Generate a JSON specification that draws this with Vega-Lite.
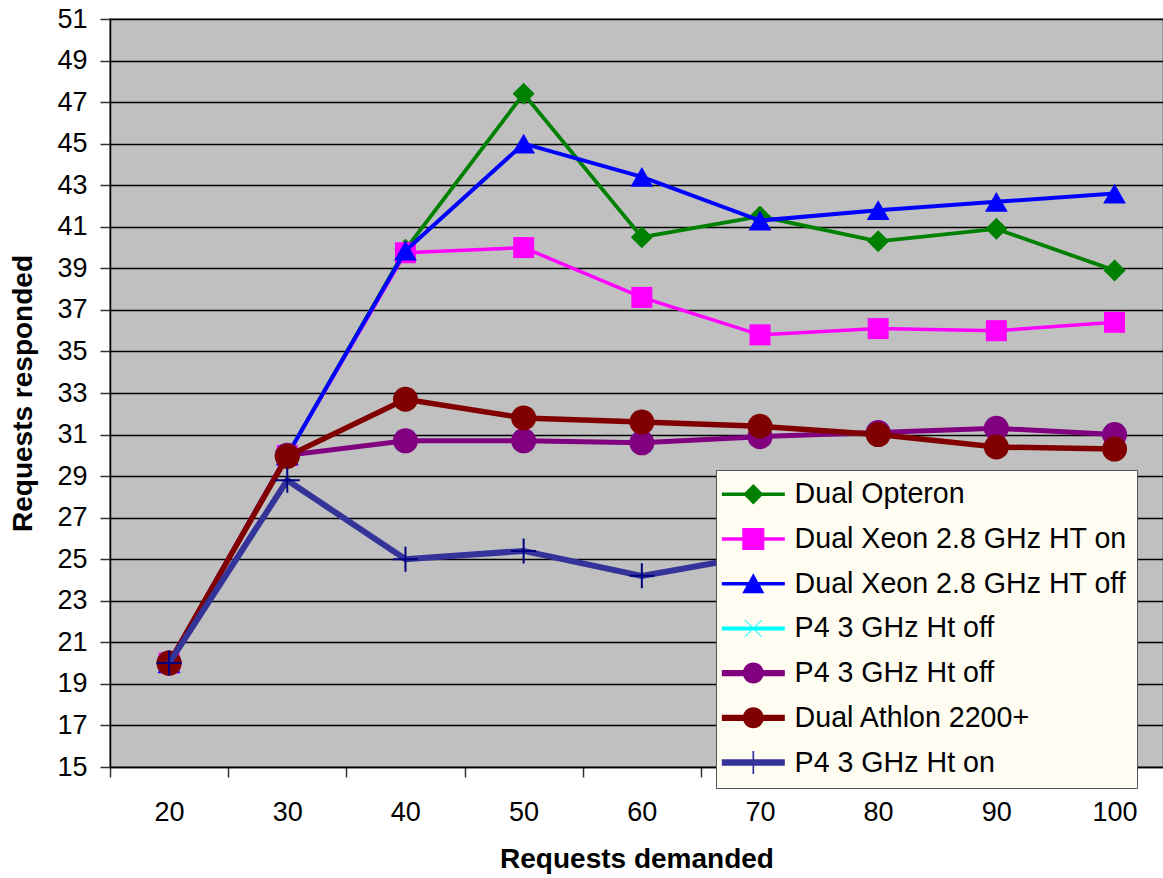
{
  "$schema": "https://vega.github.io/schema/vega-lite/v6.json",
  "width": 1053,
  "height": 748,
  "autosize": {"type": "none"},
  "padding": {"left": 110, "top": 19, "right": 0, "bottom": 111},
  "background": "white",
  "config": {
    "view": {"fill": "#C0C0C0", "stroke": "#999999", "strokeWidth": 2},
    "font": "Liberation Sans"
  },
  "data": {
    "values": [
      {"series": "Dual Opteron", "x": 20, "y": 20},
      {"series": "Dual Opteron", "x": 30, "y": 30},
      {"series": "Dual Opteron", "x": 40, "y": 39.9},
      {"series": "Dual Opteron", "x": 50, "y": 47.4},
      {"series": "Dual Opteron", "x": 60, "y": 40.5},
      {"series": "Dual Opteron", "x": 70, "y": 41.5},
      {"series": "Dual Opteron", "x": 80, "y": 40.3},
      {"series": "Dual Opteron", "x": 90, "y": 40.9},
      {"series": "Dual Opteron", "x": 100, "y": 38.9},
      {"series": "Dual Xeon 2.8 GHz HT on", "x": 20, "y": 20},
      {"series": "Dual Xeon 2.8 GHz HT on", "x": 30, "y": 30},
      {"series": "Dual Xeon 2.8 GHz HT on", "x": 40, "y": 39.75},
      {"series": "Dual Xeon 2.8 GHz HT on", "x": 50, "y": 40.0},
      {"series": "Dual Xeon 2.8 GHz HT on", "x": 60, "y": 37.6},
      {"series": "Dual Xeon 2.8 GHz HT on", "x": 70, "y": 35.8},
      {"series": "Dual Xeon 2.8 GHz HT on", "x": 80, "y": 36.1},
      {"series": "Dual Xeon 2.8 GHz HT on", "x": 90, "y": 36.0},
      {"series": "Dual Xeon 2.8 GHz HT on", "x": 100, "y": 36.4},
      {"series": "Dual Xeon 2.8 GHz HT off", "x": 20, "y": 20},
      {"series": "Dual Xeon 2.8 GHz HT off", "x": 30, "y": 30},
      {"series": "Dual Xeon 2.8 GHz HT off", "x": 40, "y": 39.85},
      {"series": "Dual Xeon 2.8 GHz HT off", "x": 50, "y": 45.0},
      {"series": "Dual Xeon 2.8 GHz HT off", "x": 60, "y": 43.4},
      {"series": "Dual Xeon 2.8 GHz HT off", "x": 70, "y": 41.3},
      {"series": "Dual Xeon 2.8 GHz HT off", "x": 80, "y": 41.8},
      {"series": "Dual Xeon 2.8 GHz HT off", "x": 90, "y": 42.2},
      {"series": "Dual Xeon 2.8 GHz HT off", "x": 100, "y": 42.6},
      {"series": "P4 3 GHz Ht off", "x": 20, "y": 20},
      {"series": "P4 3 GHz Ht off", "x": 30, "y": 30},
      {"series": "P4 3 GHz Ht off", "x": 40, "y": 30.7},
      {"series": "P4 3 GHz Ht off", "x": 50, "y": 30.7},
      {"series": "P4 3 GHz Ht off", "x": 60, "y": 30.6},
      {"series": "P4 3 GHz Ht off", "x": 70, "y": 30.9},
      {"series": "P4 3 GHz Ht off", "x": 80, "y": 31.1},
      {"series": "P4 3 GHz Ht off", "x": 90, "y": 31.3},
      {"series": "P4 3 GHz Ht off", "x": 100, "y": 31.0},
      {"series": "P4 3 GHz Ht off (2)", "x": 20, "y": 20},
      {"series": "P4 3 GHz Ht off (2)", "x": 30, "y": 30},
      {"series": "P4 3 GHz Ht off (2)", "x": 40, "y": 30.7},
      {"series": "P4 3 GHz Ht off (2)", "x": 50, "y": 30.7},
      {"series": "P4 3 GHz Ht off (2)", "x": 60, "y": 30.6},
      {"series": "P4 3 GHz Ht off (2)", "x": 70, "y": 30.9},
      {"series": "P4 3 GHz Ht off (2)", "x": 80, "y": 31.1},
      {"series": "P4 3 GHz Ht off (2)", "x": 90, "y": 31.3},
      {"series": "P4 3 GHz Ht off (2)", "x": 100, "y": 31.0},
      {"series": "Dual Athlon 2200+", "x": 20, "y": 20},
      {"series": "Dual Athlon 2200+", "x": 30, "y": 29.95},
      {"series": "Dual Athlon 2200+", "x": 40, "y": 32.7},
      {"series": "Dual Athlon 2200+", "x": 50, "y": 31.8},
      {"series": "Dual Athlon 2200+", "x": 60, "y": 31.6},
      {"series": "Dual Athlon 2200+", "x": 70, "y": 31.4},
      {"series": "Dual Athlon 2200+", "x": 80, "y": 31.0},
      {"series": "Dual Athlon 2200+", "x": 90, "y": 30.4},
      {"series": "Dual Athlon 2200+", "x": 100, "y": 30.3},
      {"series": "P4 3 GHz Ht on", "x": 20, "y": 20},
      {"series": "P4 3 GHz Ht on", "x": 30, "y": 28.8},
      {"series": "P4 3 GHz Ht on", "x": 40, "y": 25.0},
      {"series": "P4 3 GHz Ht on", "x": 50, "y": 25.4},
      {"series": "P4 3 GHz Ht on", "x": 60, "y": 24.2},
      {"series": "P4 3 GHz Ht on", "x": 70, "y": 25.2},
      {"series": "P4 3 GHz Ht on", "x": 80, "y": 25.0},
      {"series": "P4 3 GHz Ht on", "x": 90, "y": 25.5},
      {"series": "P4 3 GHz Ht on", "x": 100, "y": 25.3}
    ]
  },
  "encoding": {
    "x": {
      "field": "x",
      "type": "quantitative",
      "scale": {"domain": [15, 104.1], "nice": false, "zero": false},
      "axis": {
        "values": [15, 25, 35, 45, 55, 65, 75, 85, 95],
        "labelExpr": "'' + (datum.value + 5)",
        "labelOffset": 59,
        "labelFlush": false,
        "labelOverlap": false,
        "grid": false,
        "domainColor": "#000000",
        "domainWidth": 1.5,
        "tickColor": "#333333",
        "tickWidth": 1.5,
        "tickSize": 10,
        "labelFontSize": 27,
        "labelColor": "#000000",
        "labelPadding": 22,
        "title": "Requests demanded",
        "titleFontSize": 28,
        "titleFontWeight": "bold",
        "titleColor": "#000000",
        "titlePadding": 20
      }
    },
    "y": {
      "field": "y",
      "type": "quantitative",
      "scale": {"domain": [15, 51], "nice": false, "zero": false},
      "axis": {
        "values": [15, 17, 19, 21, 23, 25, 27, 29, 31, 33, 35, 37, 39, 41, 43, 45, 47, 49, 51],
        "grid": true,
        "gridColor": "#000000",
        "gridWidth": 1.5,
        "gridOpacity": 1,
        "domainColor": "#000000",
        "domainWidth": 1.5,
        "tickColor": "#333333",
        "tickWidth": 1.5,
        "tickSize": 10,
        "labelFontSize": 27,
        "labelColor": "#000000",
        "labelPadding": 13,
        "title": "Requests responded",
        "titleFontSize": 28,
        "titleFontWeight": "bold",
        "titleColor": "#000000",
        "titlePadding": 19
      }
    }
  },
  "layer": [
    {
      "transform": [{"filter": "datum.series === 'Dual Opteron'"}],
      "mark": {"type": "line", "color": "#008000", "strokeWidth": 3.8,
        "point": {"filled": true, "shape": "diamond", "size": 484, "fill": "#008000", "strokeWidth": 0, "opacity": 1}}
    },
    {
      "transform": [{"filter": "datum.series === 'Dual Xeon 2.8 GHz HT on'"}],
      "mark": {"type": "line", "color": "#FF00FF", "strokeWidth": 3.5,
        "point": {"filled": true, "shape": "square", "size": 441, "fill": "#FF00FF", "strokeWidth": 0, "opacity": 1}}
    },
    {
      "transform": [{"filter": "datum.series === 'Dual Xeon 2.8 GHz HT off'"}],
      "mark": {"type": "line", "color": "#0000FF", "strokeWidth": 4,
        "point": {"filled": true, "shape": "triangle-up", "size": 520, "fill": "#0000FF", "strokeWidth": 0, "opacity": 1}}
    },
    {
      "transform": [{"filter": "datum.series === 'P4 3 GHz Ht off'"}],
      "mark": {"type": "line", "color": "#00FFFF", "strokeWidth": 3.5,
        "point": {"filled": false, "shape": "M-1,-1L1,1M-1,1L1,-1", "size": 324, "stroke": "#00FFFF", "strokeWidth": 1.5, "opacity": 1}}
    },
    {
      "transform": [{"filter": "datum.series === 'P4 3 GHz Ht off (2)'"}],
      "mark": {"type": "line", "color": "#800080", "strokeWidth": 5,
        "point": {"filled": true, "shape": "circle", "size": 625, "fill": "#800080", "strokeWidth": 0, "opacity": 1}}
    },
    {
      "transform": [{"filter": "datum.series === 'Dual Athlon 2200+'"}],
      "mark": {"type": "line", "color": "#800000", "strokeWidth": 5.5,
        "point": {"filled": true, "shape": "circle", "size": 625, "fill": "#800000", "strokeWidth": 0, "opacity": 1}}
    },
    {
      "transform": [{"filter": "datum.series === 'P4 3 GHz Ht on'"}],
      "mark": {"type": "line", "color": "#333399", "strokeWidth": 6,
        "point": {"filled": false, "shape": "M-1,0H1M0,-1V1", "size": 625, "stroke": "#000080", "strokeWidth": 2, "opacity": 1}}
    },
    {
      "transform": [{"filter": "datum.x === 20"}],
      "mark": {"type": "point", "filled": true, "opacity": 0},
      "encoding": {
        "color": {
          "field": "series",
          "type": "nominal",
          "scale": {
            "domain": ["Dual Opteron", "Dual Xeon 2.8 GHz HT on", "Dual Xeon 2.8 GHz HT off", "P4 3 GHz Ht off", "P4 3 GHz Ht off (2)", "Dual Athlon 2200+", "P4 3 GHz Ht on"],
            "range": ["#008000", "#FF00FF", "#0000FF", "#00FFFF", "#800080", "#800000", "#333399"]
          },
          "legend": {
            "title": null,
            "orient": "none",
            "legendX": 606,
            "legendY": 451,
            "padding": 10,
            "rowPadding": 15.7,
            "fillColor": "#FFFCF2",
            "strokeColor": "#555555",
            "symbolSize": 441,
            "symbolStrokeWidth": 0,
            "symbolOpacity": 1,
            "labelOffset": 40,
            "labelFontSize": 28.6,
            "labelFont": "Liberation Sans",
            "labelColor": "#000000",
            "labelLimit": 500,
            "labelExpr": "replace(datum.label, ' (2)', '')"
          }
        },
        "shape": {
          "field": "series",
          "type": "nominal",
          "scale": {
            "domain": ["Dual Opteron", "Dual Xeon 2.8 GHz HT on", "Dual Xeon 2.8 GHz HT off", "P4 3 GHz Ht off", "P4 3 GHz Ht off (2)", "Dual Athlon 2200+", "P4 3 GHz Ht on"],
            "range": [
              "M-1.76,-0.17H0.44L1.24,-0.97L2.04,-0.17H4.24V0.17H2.04L1.24,0.97L0.44,0.17H-1.76Z",
              "M-1.76,-0.17H0.19V-1.05H2.29V-0.17H4.24V0.17H2.29V1.05H0.19V0.17H-1.76Z",
              "M-1.76,-0.17H0.781L1.24,-1L1.699,-0.17H4.24V0.17H1.887L2.29,0.9H0.19L0.593,0.17H-1.76Z",
              "M-1.76,-0.19H4.24V0.19H-1.76ZM0.38,-0.8H0.5L2.1,0.8H1.98ZM1.98,-0.8H2.1L0.5,0.8H0.38Z",
              "M-1.76,-0.3H4.24V0.3H-1.76ZM0.24,0A1,1 0 1,1 2.24,0A1,1 0 1,1 0.24,0Z",
              "M-1.76,-0.3H4.24V0.3H-1.76ZM0.24,0A1,1 0 1,1 2.24,0A1,1 0 1,1 0.24,0Z",
              "M-1.76,-0.3H4.24V0.3H-1.76ZM1.16,-1.1H1.32V1.1H1.16Z"
            ]
          },
          "legend": {
            "title": null,
            "orient": "none",
            "legendX": 606,
            "legendY": 451,
            "padding": 10,
            "rowPadding": 15.7,
            "fillColor": "#FFFCF2",
            "strokeColor": "#555555",
            "symbolSize": 441,
            "symbolStrokeWidth": 0,
            "symbolOpacity": 1,
            "labelOffset": 40,
            "labelFontSize": 28.6,
            "labelFont": "Liberation Sans",
            "labelColor": "#000000",
            "labelLimit": 500,
            "labelExpr": "replace(datum.label, ' (2)', '')"
          }
        }
      }
    }
  ]
}
